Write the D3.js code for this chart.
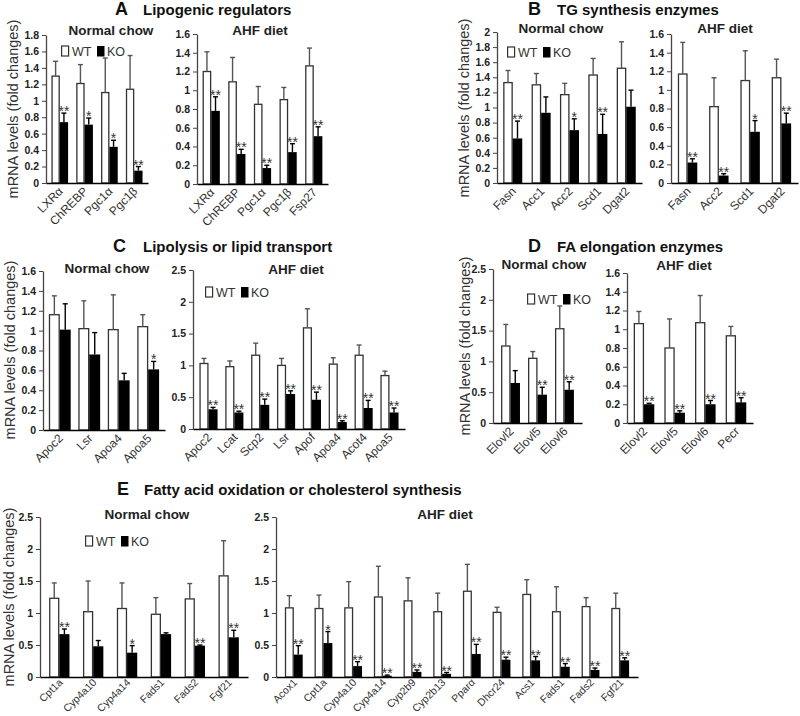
<!DOCTYPE html>
<html><head><meta charset="utf-8">
<script src="https://cdn.jsdelivr.net/npm/d3@7"></script>
<style>
body{margin:0;background:#fff}
svg{display:block;font-family:"Liberation Sans",Arial,sans-serif}
</style>
</head><body><svg id="c" width="800" height="716"></svg>
<script>
// ---------- DATA ----------
// Panel A – Lipogenic regulators
const aNcCats = ["LXRα","ChREBP","Pgc1α","Pgc1β"];
const aNcWT   = [1.30,1.21,1.10,1.14];
const aNcWTsd = [0.18,0.23,0.42,0.41];
const aNcKO   = [0.74,0.71,0.44,0.15];
const aNcKOsd = [0.11,0.08,0.08,0.05];
const aNcSig  = ["**","*","*","**"];
const aNcTicks = [0,0.2,0.4,0.6,0.8,1,1.2,1.4,1.6,1.8];

const aHfCats = ["LXRα","ChREBP","Pgc1α","Pgc1β","Fsp27"];
const aHfWT   = [1.20,1.09,0.85,0.90,1.26];
const aHfWTsd = [0.21,0.26,0.19,0.13,0.19];
const aHfKO   = [0.78,0.32,0.17,0.34,0.51];
const aHfKOsd = [0.15,0.05,0.03,0.09,0.10];
const aHfSig  = ["**","**","**","**","**"];
const aHfTicks = [0,0.2,0.4,0.6,0.8,1,1.2,1.4,1.6];

// Panel B – TG synthesis enzymes
const bNcCats = ["Fasn","Acc1","Acc2","Scd1","Dgat2"];
const bNcWT   = [1.33,1.30,1.17,1.43,1.52];
const bNcWTsd = [0.16,0.15,0.15,0.22,0.35];
const bNcKO   = [0.59,0.93,0.70,0.65,1.01];
const bNcKOsd = [0.23,0.21,0.15,0.26,0.22];
const bNcSig  = ["**","","*","**",""];
const bNcTicks = [0,0.2,0.4,0.6,0.8,1,1.2,1.4,1.6,1.8,2];

const bHfCats = ["Fasn","Acc2","Scd1","Dgat2"];
const bHfWT   = [1.17,0.82,1.10,1.13];
const bHfWTsd = [0.34,0.31,0.32,0.20];
const bHfKO   = [0.22,0.08,0.55,0.64];
const bHfKOsd = [0.04,0.02,0.12,0.11];
const bHfSig  = ["**","**","*","**"];
const bHfTicks = [0,0.2,0.4,0.6,0.8,1,1.2,1.4,1.6];

// Panel C – Lipolysis or lipid transport
const cNcCats = ["Apoc2","Lsr","Apoa4","Apoa5"];
const cNcWT   = [1.16,1.02,1.01,1.04];
const cNcWTsd = [0.19,0.28,0.35,0.12];
const cNcKO   = [1.01,0.76,0.50,0.61];
const cNcKOsd = [0.26,0.22,0.07,0.08];
const cNcSig  = ["","","","*"];
const cNcTicks = [0,0.2,0.4,0.6,0.8,1,1.2,1.4,1.6];

const cHfCats = ["Apoc2","Lcat","Scp2","Lsr","Apof","Apoa4","Acot4","Apoa5"];
const cHfWT   = [1.03,0.98,1.16,1.00,1.59,1.02,1.16,0.84];
const cHfWTsd = [0.08,0.09,0.19,0.11,0.30,0.10,0.16,0.07];
const cHfKO   = [0.31,0.26,0.38,0.55,0.46,0.11,0.33,0.26];
const cHfKOsd = [0.03,0.02,0.09,0.05,0.12,0.02,0.12,0.07];
const cHfSig  = ["**","**","**","**","**","**","**","**"];
const cHfTicks = [0,0.5,1,1.5,2,2.5];

// Panel D – FA elongation enzymes
const dNcCats = ["Elovl2","Elovl5","Elovl6"];
const dNcWT   = [1.25,1.05,1.53];
const dNcWTsd = [0.35,0.11,0.37];
const dNcKO   = [0.65,0.46,0.54];
const dNcKOsd = [0.20,0.12,0.13];
const dNcSig  = ["","**","**"];
const dNcTicks = [0,0.5,1,1.5,2,2.5];

const dHfCats = ["Elovl2","Elovl5","Elovl6","Pecr"];
const dHfWT   = [1.06,0.80,1.07,0.93];
const dHfWTsd = [0.13,0.31,0.29,0.10];
const dHfKO   = [0.20,0.11,0.20,0.22];
const dHfKOsd = [0.01,0.02,0.04,0.05];
const dHfSig  = ["**","**","**","**"];
const dHfTicks = [0,0.2,0.4,0.6,0.8,1,1.2,1.4,1.6];

// Panel E – Fatty acid oxidation or cholesterol synthesis
const eNcCats = ["Cpt1a","Cyp4a10","Cyp4a14","Fads1","Fads2","Fgf21"];
const eNcWT   = [1.23,1.02,1.07,0.98,1.22,1.58];
const eNcWTsd = [0.24,0.48,0.40,0.26,0.24,0.55];
const eNcKO   = [0.67,0.48,0.38,0.67,0.49,0.62];
const eNcKOsd = [0.08,0.09,0.11,0.02,0.01,0.11];
const eNcSig  = ["**","","*","","**","**"];
const eNcTicks = [0,0.5,1,1.5,2,2.5];

const eHfCats = ["Acox1","Cpt1a","Cyp4a10","Cyp4a14","Cyp2b9","Cyp2b13","Pparα","Dhcr24","Acs1","Fads1","Fads2","Fgf21"];
const eHfWT   = [1.08,1.07,1.08,1.25,1.19,1.02,1.34,1.01,1.29,1.02,1.10,1.07];
const eHfWTsd = [0.19,0.21,0.41,0.48,0.36,0.29,0.42,0.08,0.23,0.39,0.14,0.24];
const eHfKO   = [0.35,0.53,0.17,0.02,0.08,0.05,0.36,0.27,0.26,0.16,0.11,0.26];
const eHfKOsd = [0.14,0.18,0.07,0.01,0.03,0.02,0.15,0.04,0.06,0.05,0.03,0.04];
const eHfSig  = ["**","*","**","**","**","**","**","**","**","**","**","**"];
const eHfTicks = [0,0.5,1,1.5,2,2.5];

const groups = ["WT","KO"];
const panelTitles = [
  {letter:"A", text:"Lipogenic regulators"},
  {letter:"B", text:"TG synthesis enzymes"},
  {letter:"C", text:"Lipolysis or lipid transport"},
  {letter:"D", text:"FA elongation enzymes"},
  {letter:"E", text:"Fatty acid oxidation or cholesterol synthesis"}
];
const subNC = "Normal chow", subHF = "AHF diet";
const yLabel = "mRNA levels (fold changes)";

// ---------- LAYOUT ----------
const svg = d3.select("#c");
const panels = [
  {cats:aNcCats,wt:aNcWT,wsd:aNcWTsd,ko:aNcKO,ksd:aNcKOsd,sig:aNcSig,ticks:aNcTicks,x0:46,x1:148,yb:183,yt:35,pi:0.33,po:0.22,sub:subNC,sx:111,sy:35,leg:[61,46],lf:12,lt:[4,9]},
  {cats:aHfCats,wt:aHfWT,wsd:aHfWTsd,ko:aHfKO,ksd:aHfKOsd,sig:aHfSig,ticks:aHfTicks,x0:197,x1:328,yb:184,yt:34,pi:0.33,po:0.22,sub:subHF,sx:260,sy:35,lf:12,lt:[4,9]},
  {cats:bNcCats,wt:bNcWT,wsd:bNcWTsd,ko:bNcKO,ksd:bNcKOsd,sig:bNcSig,ticks:bNcTicks,x0:497,x1:642,yb:183,yt:32,pi:0.33,po:0.22,sub:subNC,sx:561,sy:33,leg:[507,47],lf:12,lt:[4,9]},
  {cats:bHfCats,wt:bHfWT,wsd:bHfWTsd,ko:bHfKO,ksd:bHfKOsd,sig:bHfSig,ticks:bHfTicks,x0:671,x1:798,yb:183,yt:34,pi:0.38,po:0.22,sub:subHF,sx:725,sy:33,lf:12,lt:[4,9]},
  {cats:cNcCats,wt:cNcWT,wsd:cNcWTsd,ko:cNcKO,ksd:cNcKOsd,sig:cNcSig,ticks:cNcTicks,x0:43,x1:165,yb:430,yt:271,pi:0.26,po:0.2,sub:subNC,sx:107,sy:273,lf:12,lt:[4,9]},
  {cats:cHfCats,wt:cHfWT,wsd:cHfWTsd,ko:cHfKO,ksd:cHfKOsd,sig:cHfSig,ticks:cHfTicks,x0:193,x1:405,yb:429,yt:270,pi:0.3,po:0.25,sub:subHF,sx:296,sy:274,leg:[205,287],lf:12,lt:[4,9]},
  {cats:dNcCats,wt:dNcWT,wsd:dNcWTsd,ko:dNcKO,ksd:dNcKOsd,sig:dNcSig,ticks:dNcTicks,x0:493,x1:582,yb:423,yt:269,pi:0.3,po:0.3,sub:subNC,sx:544,sy:269,leg:[527,294],lf:12,lt:[4,9]},
  {cats:dHfCats,wt:dHfWT,wsd:dHfWTsd,ko:dHfKO,ksd:dHfKOsd,sig:dHfSig,ticks:dHfTicks,x0:627,x1:753,yb:423,yt:273,pi:0.33,po:0.22,sub:subHF,sx:684,sy:270,lf:12,lt:[4,9]},
  {cats:eNcCats,wt:eNcWT,wsd:eNcWTsd,ko:eNcKO,ksd:eNcKOsd,sig:eNcSig,ticks:eNcTicks,x0:40,x1:248,yb:677,yt:517,pi:0.4,po:0.27,sub:subNC,sx:147,sy:519,leg:[85,536],lf:10.5,lt:[4,6]},
  {cats:eHfCats,wt:eHfWT,wsd:eHfWTsd,ko:eHfKO,ksd:eHfKOsd,sig:eHfSig,ticks:eHfTicks,x0:276,x1:638,yb:677,yt:517,pi:0.4,po:0.3,sub:subHF,sx:445,sy:519,lf:10.5,lt:[4,6]}
];
const titlePos = [[115,143,15],[528,557,15],[113,143,252],[528,557,252],[117,144,495]];
const yLabelPos = [[13,109],[464,108],[10,350],[465,346],[9,597]];

// ---------- TITLES ----------
panelTitles.forEach((t,i)=>{
  const [lx,tx,ty] = titlePos[i];
  svg.append("text").attr("x",lx).attr("y",ty).attr("font-size",18).attr("font-weight","bold").attr("fill","#111").text(t.letter);
  svg.append("text").attr("x",tx).attr("y",ty).attr("font-size",15).attr("font-weight","bold").attr("fill","#111").text(t.text);
});
yLabelPos.forEach(([x,y])=>{
  svg.append("text").attr("transform",`translate(${x},${y}) rotate(-90)`).attr("text-anchor","middle")
    .attr("dominant-baseline","central").attr("font-size",14.5).attr("fill","#333").text(yLabel);
});

// ---------- PANELS ----------
panels.forEach(p=>{
  const g = svg.append("g");
  const ymax = p.ticks[p.ticks.length-1];
  const y = d3.scaleLinear().domain([0,ymax]).range([p.yb,p.yt]);
  const x = d3.scaleBand().domain(p.cats).range([p.x0,p.x1]).paddingInner(p.pi).paddingOuter(p.po);
  const xs = d3.scaleBand().domain(groups).range([0,x.bandwidth()]);

  // y axis
  const ya = g.append("g").attr("transform",`translate(${p.x0},0)`)
    .call(d3.axisLeft(y).tickValues(p.ticks).tickFormat(d3.format("~g")).tickSize(4).tickSizeOuter(0).tickPadding(3));
  ya.select(".domain").attr("stroke","#444").attr("stroke-width",1.3);
  ya.selectAll(".tick line").attr("stroke","#444");
  ya.selectAll("text").attr("font-size",10.5).attr("font-weight","bold").attr("fill","#222").attr("font-family","'Liberation Sans',Arial,sans-serif");

  // bars
  const rows = p.cats.map((c,i)=>({c,i}));
  const bw = xs.bandwidth();
  g.selectAll("rect.wt").data(rows).join("rect").attr("class","wt")
    .attr("x",d=>x(d.c)+xs("WT")+0.6).attr("width",bw-1.2)
    .attr("y",d=>y(p.wt[d.i])).attr("height",d=>p.yb-y(p.wt[d.i]))
    .attr("fill","#fff").attr("stroke","#333").attr("stroke-width",1.3);
  g.selectAll("rect.ko").data(rows).join("rect").attr("class","ko")
    .attr("x",d=>x(d.c)+xs("KO")).attr("width",bw)
    .attr("y",d=>y(p.ko[d.i])).attr("height",d=>p.yb-y(p.ko[d.i]))
    .attr("fill","#000");

  // error bars
  function err(cls,grp,vals,sds,col){
    const cx = d=>x(d.c)+xs(grp)+bw/2;
    g.selectAll("line."+cls+"v").data(rows).join("line").attr("class",cls+"v")
      .attr("x1",cx).attr("x2",cx).attr("y1",d=>y(vals[d.i])).attr("y2",d=>y(vals[d.i]+sds[d.i]))
      .attr("stroke",col).attr("stroke-width",1.4);
    g.selectAll("line."+cls+"h").data(rows).join("line").attr("class",cls+"h")
      .attr("x1",d=>cx(d)-2.5).attr("x2",d=>cx(d)+2.5).attr("y1",d=>y(vals[d.i]+sds[d.i])).attr("y2",d=>y(vals[d.i]+sds[d.i]))
      .attr("stroke",col).attr("stroke-width",1.4);
  }
  err("ew","WT",p.wt,p.wsd,"#555");
  err("ek","KO",p.ko,p.ksd,"#000");

  // significance
  g.selectAll("text.sig").data(rows).join("text").attr("class","sig")
    .attr("x",d=>x(d.c)+xs("KO")+bw/2).attr("y",d=>y(p.ko[d.i]+p.ksd[d.i])+3)
    .attr("text-anchor","middle").attr("font-size",14).attr("fill","#333")
    .text(d=>p.sig[d.i]);

  // x axis
  const xa = g.append("g").attr("transform",`translate(0,${p.yb})`)
    .call(d3.axisBottom(x).tickSize(0).tickSizeOuter(0).tickPadding(0));
  xa.select(".domain").attr("stroke","#000").attr("stroke-width",1.5);
  xa.selectAll("text").attr("font-size",p.lf).attr("fill","#333").attr("font-family","'Liberation Sans',Arial,sans-serif")
    .attr("text-anchor","end").attr("dy",0)
    .attr("transform",`translate(${p.lt[0]},${p.lt[1]}) rotate(-45)`);

  // subtitle
  g.append("text").attr("x",p.sx).attr("y",p.sy).attr("text-anchor","middle")
    .attr("font-size",13.5).attr("font-weight","bold").attr("fill","#222").text(p.sub);

  // legend
  if(p.leg){
    const [lx,ly] = p.leg;
    g.append("rect").attr("x",lx+0.6).attr("y",ly).attr("width",7).attr("height",10).attr("fill","#fff").attr("stroke","#333").attr("stroke-width",1.2);
    g.append("text").attr("x",lx+11).attr("y",ly+9.5).attr("font-size",12.5).attr("fill","#333").text(groups[0]);
    g.append("rect").attr("x",lx+36).attr("y",ly).attr("width",7.5).attr("height",10.5).attr("fill","#000");
    g.append("text").attr("x",lx+46).attr("y",ly+9.5).attr("font-size",12.5).attr("fill","#333").text(groups[1]);
  }
});
</script></body></html>
